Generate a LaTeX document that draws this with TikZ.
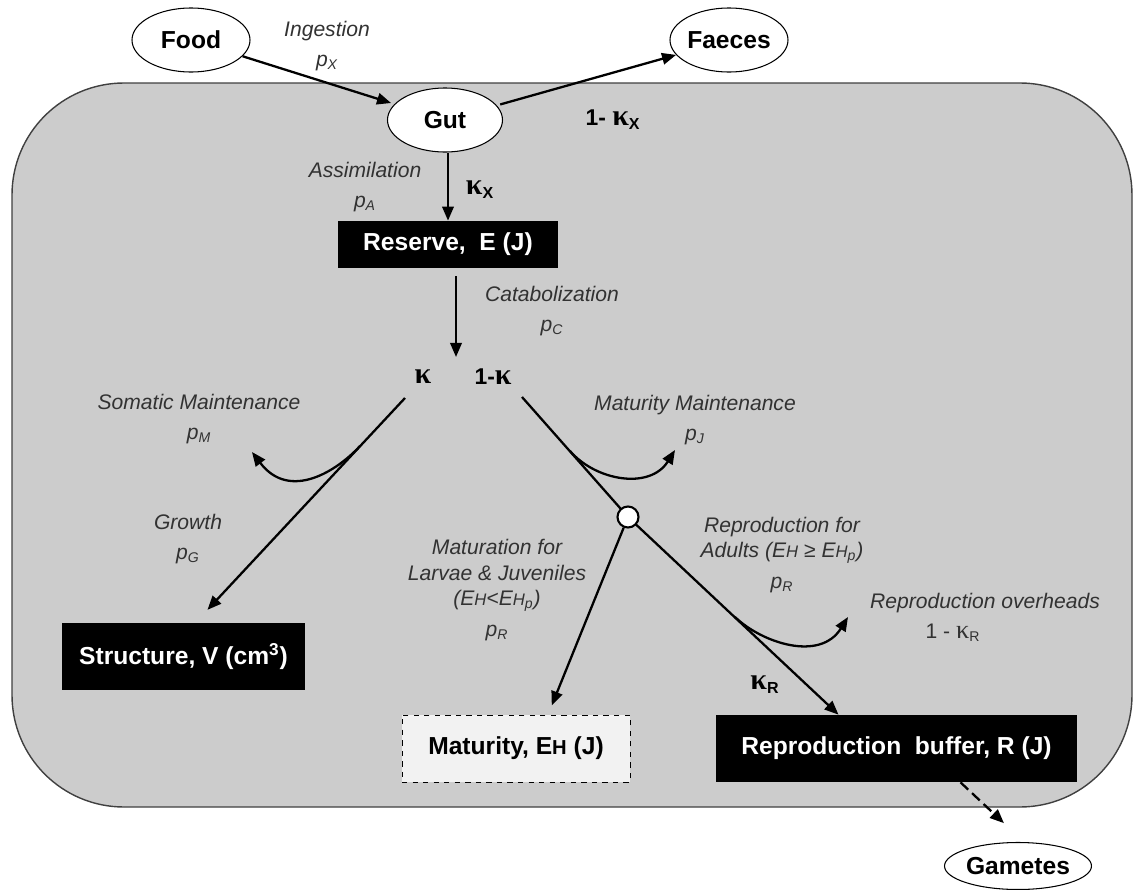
\documentclass[tikz,border=0pt]{standalone}
\usepackage{fontspec}
\setmainfont{Liberation Sans}
\newfontfamily\kfont{Liberation Serif}
\usetikzlibrary{arrows.meta,calc,shapes.geometric}
\definecolor{bodygray}{RGB}{204,204,204}
\definecolor{labelgray}{RGB}{50,50,50}
\definecolor{matfill}{RGB}{242,242,242}
\newcommand{\nodefont}{\fontsize{14}{16}\selectfont\bfseries}
\newcommand{\fluxfont}{\fontsize{12}{14.5}\selectfont\itshape}
\newcommand{\kp}[1][17]{{\kfont\fontsize{#1}{#1}\selectfont κ}}
\newcommand{\pflux}[1]{p\textsubscript{#1}}
\newcommand{\EH}{E{\fontsize{9.5}{10}\selectfont H}}
\newcommand{\EHbig}{E{\fontsize{11.5}{12}\selectfont H}}

\begin{document}
\begin{tikzpicture}[x=0.2mm,y=-0.2mm,
  pool/.style={draw,ellipse,fill=white,line width=0.6pt,
               minimum width=2.36cm,minimum height=1.28cm,inner sep=0pt,
               font=\nodefont},
  statebox/.style={fill=black,text=white,inner sep=0pt,font=\nodefont},
  flux/.style={font=\fluxfont,text=labelgray,align=center},
  kaplbl/.style={font=\fontsize{13}{15}\selectfont\bfseries},
  arr/.style={-{Triangle[length=8pt,width=6.5pt]},line width=1.3pt},
  branch/.style={line width=1.3pt}]

  \useasboundingbox (0,0) rectangle (1134,890);

  % organism
  \draw[draw=black!75,fill=bodygray,line width=0.8pt,rounded corners=2.24cm]
    (12,83) rectangle (1132,807);

  % outside pools
  \node[pool] (food)   at (191,40) {Food};
  \node[pool] (faeces) at (729,40) {Faeces};
  \node[pool,minimum width=2.46cm,minimum height=0.94cm] (gametes) at (1018,866) {Gametes};
  \node[pool,minimum width=2.3cm] (gut) at (445,120) {Gut};

  % state variables
  \node[statebox,minimum width=4.4cm,minimum height=0.94cm]  (reserve)   at (448,244.5)   {Reserve,\ \ E (J)};
  \node[statebox,minimum width=4.86cm,minimum height=1.34cm] (structure) at (183.5,656.5) {Structure, V (cm\textsuperscript{3})};
  \node[draw,dashed,fill=matfill,inner sep=0pt,font=\nodefont,
        minimum width=4.56cm,minimum height=1.34cm]          (maturity)  at (516,748.5)   {Maturity, \EHbig{} (J)};
  \node[statebox,minimum width=7.22cm,minimum height=1.34cm] (buffer)    at (896.5,748.5) {Reproduction\ \ buffer, R (J)};

  % kappa rule
  \node[font=\fontsize{13}{15}\selectfont\bfseries] (kleft)  at (423,377) {\kp};
  \node[font=\fontsize{13}{15}\selectfont\bfseries] (kright) at (493,377) {1-\kp};
  \coordinate (split)   at (456,357);
  \coordinate (kstart)  at (405,398);
  \coordinate (kstart2) at (522,397);
  \coordinate (smstart) at (360,446);
  \coordinate (smend)   at (252,452);
  \coordinate (mmstart) at (570,451);
  \coordinate (mmend)   at (675,450);
  \coordinate (ovstart) at (735,617);
  \coordinate (ovend)   at (848,617);

  % feeding
  \draw[arr,shorten >=2pt] (food) -- (gut);
  \draw[arr,shorten <=2pt] (gut) -- (faeces);
  \draw[arr] (gut.south -| reserve.north) -- (reserve.north);
  \draw[arr,shorten <=0.16cm] (reserve.south -| split) -- (split);

  % somatic branch
  \draw[arr,shorten >=0.35cm] (kstart) -- ($(structure.north)+(12,0)$);
  \draw[arr] (smstart) .. controls (338,470) and (290,502) .. (smend);

  % maturity / reproduction branch
  \draw[branch] (kstart2) -- (628,517);
  \draw[arr] (628,517) -- ($(buffer.north)+(-58,0)$);
  \draw[arr] (mmstart) .. controls (596,481) and (650,490) .. (mmend);
  \draw[arr] (ovstart) .. controls (762,643) and (820,662) .. (ovend);
  \node[circle,draw,fill=white,line width=1.2pt,minimum size=0.42cm,inner sep=0pt] (switch) at (628,517) {};
  \draw[arr,shorten >=0.2cm] (switch) -- ($(maturity.north)+(32,0)$);
  \draw[arr,dash pattern=on 6pt off 3pt,shorten >=0.55cm] ($(buffer.south)+(64,0)$) -- ($(gametes.north)+(6,0)$);

  % flux labels
  \node[flux] (ingestlbl) at (327,46)  {Ingestion\\[3pt]\pflux{X}};
  \node[flux] (assimlbl)  at (365,187) {Assimilation\\[3pt]\pflux{A}};
  \node[flux] (catablbl)  at (552,311) {Catabolization\\[3pt]\pflux{C}};
  \node[flux] (somlbl)    at (199,419) {Somatic Maintenance\\[3pt]\pflux{M}};
  \node[flux] (growlbl)   at (188,539) {Growth\\[3pt]\pflux{G}};
  \node[flux] (matmlbl)   at (695,420) {Maturity Maintenance\\[3pt]\pflux{J}};
  \node[flux] (matrlbl)   at (497,590) {Maturation for\\Larvae \& Juveniles\\(\EH<\EH\textsubscript{p})\\[3pt]\pflux{R}};
  \node[flux] (reprlbl)   at (782,555) {Reproduction for\\Adults (\EH{} ≥ \EH\textsubscript{p})\\[3pt]\pflux{R}};
  \node[flux] (ovhlbl)    at (985,603) {Reproduction overheads};
  \node[flux,font=\fontsize{12}{14}\selectfont] (ovhk) at (953,633) {1 - \kp[15]\textsubscript{R}};

  % kappa labels
  \node[kaplbl] (kxlbl)  at (480,190) {\kp\textsubscript{X}};
  \node[kaplbl] (kx1lbl) at (613,120) {1- \kp\textsubscript{X}};
  \node[kaplbl] (krlbl)  at (765,685) {\kp\textsubscript{R}};
\end{tikzpicture}
\end{document}
